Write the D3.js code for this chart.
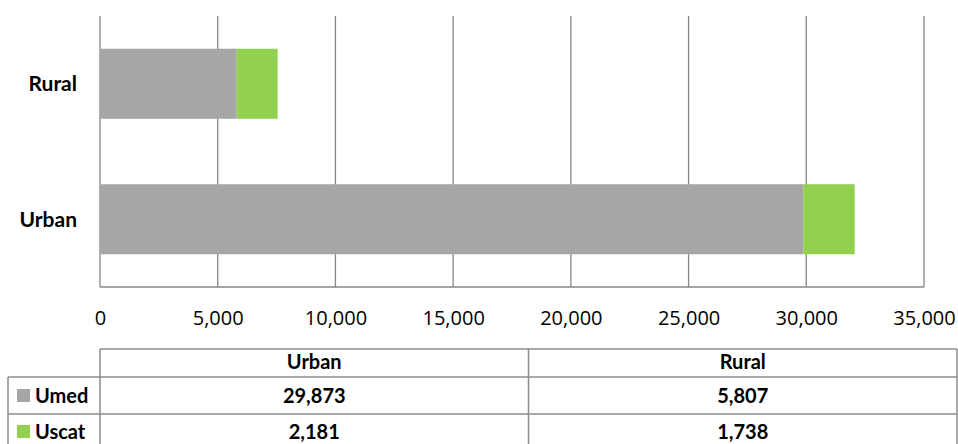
<!DOCTYPE html>
<html>
<head>
<meta charset="utf-8">
<script src="https://cdn.jsdelivr.net/npm/d3@7"></script>
<style>
html,body{margin:0;padding:0;background:#fff;}
svg{display:block;}
</style>
</head>
<body>
<svg id="chart" width="958" height="444"></svg>
<script>
const categories = ["Rural", "Urban"];
const tableColumns = ["Urban", "Rural"];
const seriesNames = ["Umed", "Uscat"];
const umed = {Urban: 29873, Rural: 5807};
const uscat = {Urban: 2181, Rural: 1738};
const tickValues = [0, 5000, 10000, 15000, 20000, 25000, 30000, 35000];
const colors = ["#A6A6A6", "#92D050"];

const svg = d3.select("#chart");
const x = d3.scaleLinear().domain([0, 35000]).range([100, 924]);
const y = d3.scaleBand().domain(categories).range([16, 287]).paddingInner(0.483).paddingOuter(0.2415);

// gridlines
svg.append("g").selectAll("line").data(tickValues).join("line")
  .attr("x1", d => x(d)).attr("x2", d => x(d))
  .attr("y1", 16).attr("y2", 287)
  .attr("stroke", "#868686").attr("stroke-width", 1.3);
svg.append("line").attr("x1", x(0)).attr("x2", x(35000)).attr("y1", 287).attr("y2", 287)
  .attr("stroke", "#868686").attr("stroke-width", 1.3);

// stacked data
const rows = categories.map(c => ({cat: c, Umed: umed[c], Uscat: uscat[c]}));
const stack = d3.stack().keys(seriesNames)(rows);

svg.append("g").selectAll("g").data(stack).join("g")
  .attr("fill", (d, i) => colors[i])
  .selectAll("rect").data(d => d).join("rect")
  .attr("x", d => x(d[0]))
  .attr("width", d => x(d[1]) - x(d[0]))
  .attr("y", d => y(d.data.cat))
  .attr("height", y.bandwidth());

// axis tick labels
const axis = d3.axisBottom(x).tickValues(tickValues).tickFormat(d3.format(",")).tickSize(0).tickPadding(0);
const ag = svg.append("g").attr("transform", "translate(0,287)").call(axis);
ag.select(".domain").remove();
ag.selectAll("text").attr("font-family", "'Open Sans', sans-serif").attr("font-size", 20)
  .attr("fill", "#000").attr("dy", null).attr("y", 38);

// category labels
svg.append("g").selectAll("text").data(categories).join("text")
  .attr("x", 77).attr("y", d => y(d) + y.bandwidth() / 2)
  .attr("dy", "0.36em")
  .attr("text-anchor", "end")
  .attr("font-family", "Lato, sans-serif").attr("font-weight", "bold").attr("font-size", 21)
  .attr("fill", "#000")
  .text(d => d);

// data table
const tbl = svg.append("g");
const lineColor = "#8c8c8c";
const colX = d3.scaleBand().domain(tableColumns).range([100, 957]);
const rowTops = [349, 377, 414, 451];
const stroke = (x1, y1, x2, y2) => tbl.append("line").attr("x1", x1).attr("y1", y1).attr("x2", x2).attr("y2", y2)
  .attr("stroke", lineColor).attr("stroke-width", 1.5);
stroke(100, rowTops[0], 957, rowTops[0]);
stroke(8, rowTops[1], 957, rowTops[1]);
stroke(8, rowTops[2], 957, rowTops[2]);
stroke(8, rowTops[3], 957, rowTops[3]);
stroke(8, rowTops[1], 8, rowTops[3]);
stroke(100, rowTops[0], 100, rowTops[3]);
stroke(colX("Rural"), rowTops[0], colX("Rural"), rowTops[3]);
stroke(957, rowTops[0], 957, rowTops[3]);

const font = t => t.attr("font-family", "Lato, sans-serif").attr("font-weight", "bold").attr("font-size", 20).attr("fill", "#000");

tbl.selectAll("text.hdr").data(tableColumns).join("text").attr("class", "hdr")
  .attr("x", d => colX(d) + colX.bandwidth() / 2).attr("y", 369).attr("text-anchor", "middle")
  .call(font).text(d => d);

const seriesData = [umed, uscat];
const baselines = [403, 439];
seriesNames.forEach((s, i) => {
  tbl.append("rect").attr("x", 17).attr("y", baselines[i] - 14).attr("width", 13).attr("height", 13).attr("fill", colors[i]);
  tbl.append("text").attr("x", 35).attr("y", baselines[i]).call(font).text(s);
  tbl.selectAll("text.v" + i).data(tableColumns).join("text").attr("class", "v" + i)
    .attr("x", d => colX(d) + colX.bandwidth() / 2).attr("y", baselines[i]).attr("text-anchor", "middle")
    .call(font).text(d => d3.format(",")(seriesData[i][d]));
});
</script>
</body>
</html>
